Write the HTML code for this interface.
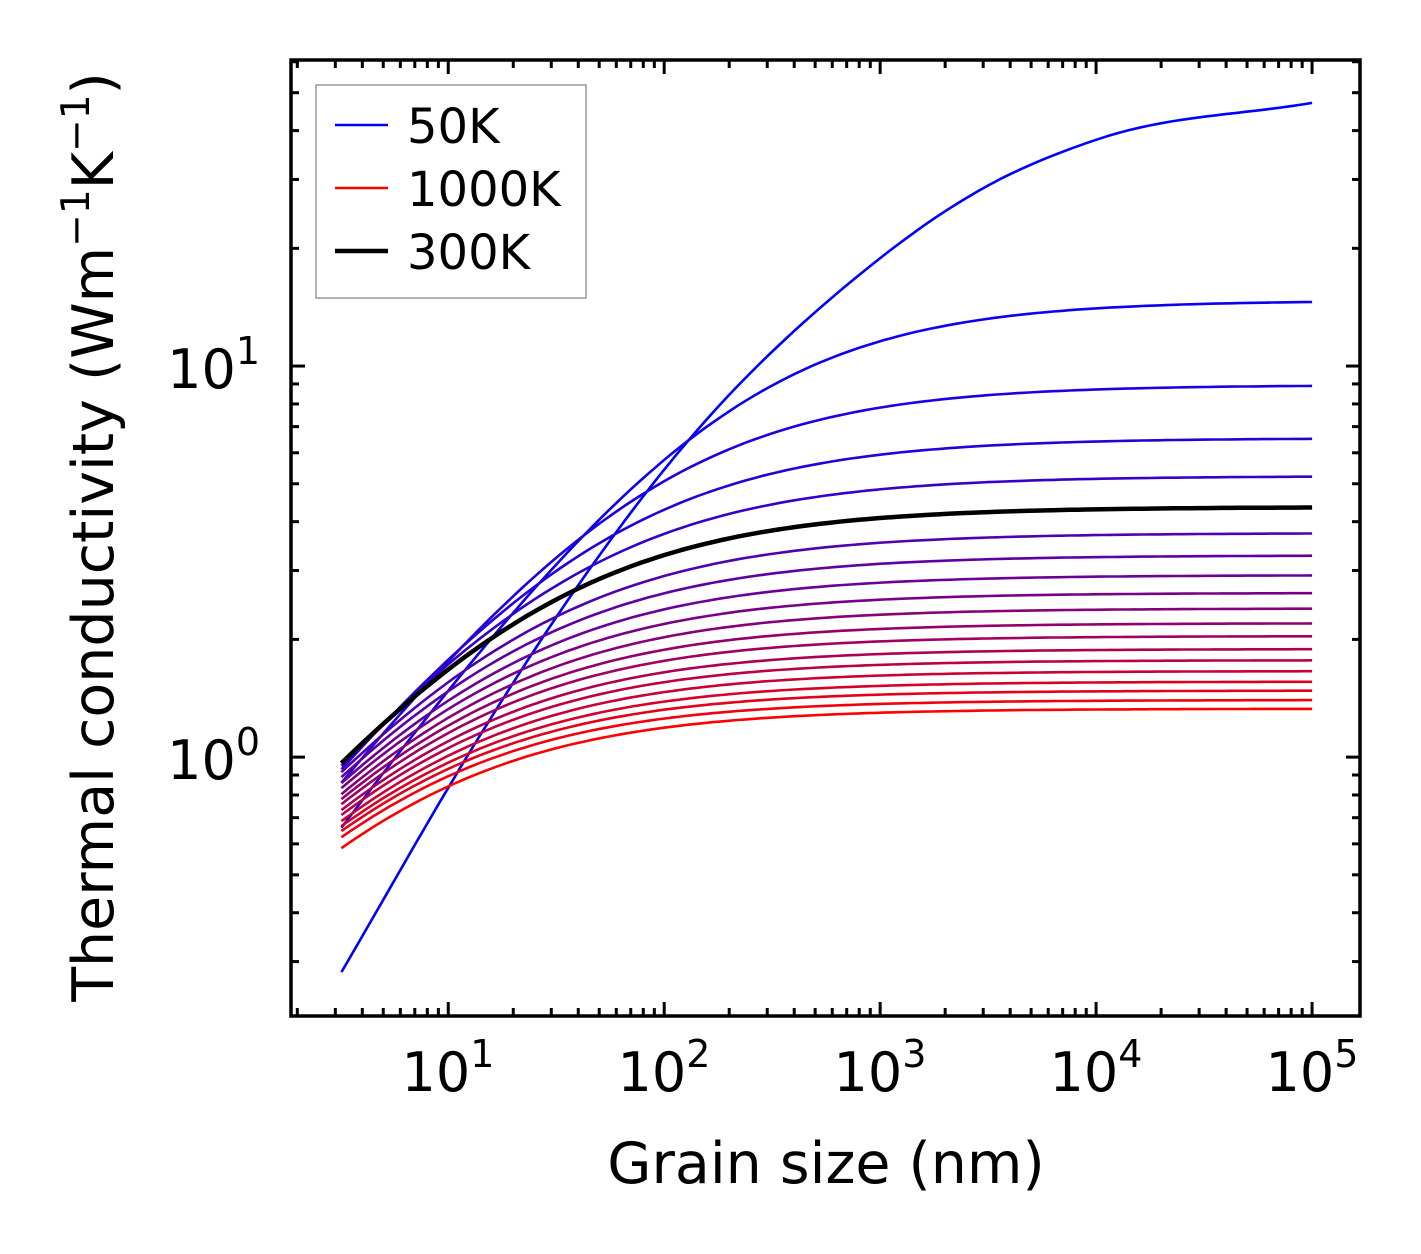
<!DOCTYPE html>
<html><head><meta charset="utf-8"><style>
html,body{margin:0;padding:0;background:#fff;}
svg{display:block;font-family:"DejaVu Sans","Liberation Sans",sans-serif;}
</style></head><body>
<svg id="chart" width="1421" height="1254" viewBox="0 0 1421 1254" xmlns="http://www.w3.org/2000/svg">
<rect width="1421" height="1254" fill="#fff"/>
<g id="curves"></g>
<g id="ticks"></g>
<rect x="291" y="60" width="1069" height="956" fill="none" stroke="#000" stroke-width="3.5"/>
<g font-size="54" text-anchor="middle">
<text x="448" y="1091">10<tspan font-size="38" dy="-24">1</tspan></text>
<text x="664" y="1091">10<tspan font-size="38" dy="-24">2</tspan></text>
<text x="880" y="1091">10<tspan font-size="38" dy="-24">3</tspan></text>
<text x="1096" y="1091">10<tspan font-size="38" dy="-24">4</tspan></text>
<text x="1312" y="1091">10<tspan font-size="38" dy="-24">5</tspan></text>
</g>
<g font-size="54" text-anchor="end">
<text x="260" y="388">10<tspan font-size="38" dy="-24">1</tspan></text>
<text x="260" y="779">10<tspan font-size="38" dy="-24">0</tspan></text>
</g>
<text x="826" y="1183" font-size="57" text-anchor="middle">Grain size (nm)</text>
<text transform="translate(113,537) rotate(-90)" font-size="57" text-anchor="middle">Thermal conductivity (Wm<tspan font-size="39" dy="-24">−1</tspan><tspan dy="24">K</tspan><tspan font-size="39" dy="-24">−1</tspan><tspan dy="24">)</tspan></text>
<g>
<rect x="316" y="85" width="270" height="213" fill="#fff" stroke="#999" stroke-width="1.5"/>
<g><line x1="335" y1="125" x2="388" y2="125" stroke="#0000ff" stroke-width="2.5"/><text x="407" y="143" font-size="48">50K</text></g>
<g><line x1="335" y1="188" x2="388" y2="188" stroke="#ff0000" stroke-width="2.5"/><text x="407" y="206" font-size="48">1000K</text></g>
<g><line x1="335" y1="251" x2="388" y2="251" stroke="#000" stroke-width="4.5"/><text x="407" y="269" font-size="48">300K</text></g>
</g>
</svg>
<script>
// Data
const temps = [50,100,150,200,250,300,350,400,450,500,550,600,650,700,750,800,850,900,950,1000];
// conductivity at the largest grain size (1e5 nm)
const kBulk = [47.1,14.7,8.94,6.54,5.23,4.36,3.74,3.28,2.92,2.63,2.40,2.20,2.04,1.89,1.77,1.66,1.56,1.48,1.40,1.33];
// conductivity at the smallest grain size (3.2 nm)
const kSmall = [0.282,0.66,0.86,0.93,0.95,0.965,0.915,0.889,0.858,0.833,0.804,0.781,0.758,0.732,0.711,0.686,0.666,0.647,0.624,0.585];
// fitted size-scaling exponent per temperature
const kExp = [0.8,0.76,0.73,0.71,0.70,0.69,0.69,0.69,0.69,0.69,0.69,0.69,0.69,0.69,0.69,0.69,0.69,0.69,0.69,0.69];
// 50K curve sampled points
const grain50 = [3.2,14.5,36.7,122,749,3000,10000,100000];
const k50 = [0.282,1.17,2.57,6.21,16.6,28.5,37.9,47.1];

const X0=291,X1=1360,Y0=60,Y1=1016;
const xMinLog=Math.log10(1.87), xMaxLog=5.222;
const yMinLog=-0.662, yMaxLog=1.7826;
const xs = v => X0+(Math.log10(v)-xMinLog)/(xMaxLog-xMinLog)*(X1-X0);
const ys = v => Y1-(Math.log10(v)-yMinLog)/(yMaxLog-yMinLog)*(Y1-Y0);
const NS="http://www.w3.org/2000/svg";
const gC=document.getElementById('curves'), gT=document.getElementById('ticks');

function pathFrom(pts){return pts.map((p,i)=>(i?'L':'M')+p[0].toFixed(1)+' '+p[1].toFixed(1)).join(' ');}
const Lmin=3.2, Lmax=1e5;
function curvePts(kinf,k0,e){
  // boundary-scattering fit: k = kinf / (1 + (lam/L)^e), pinned at both ends
  const lam=Lmin*Math.pow(kinf/k0-1,1/e);
  const pts=[];
  for(let i=0;i<=120;i++){
    const L=Math.pow(10,Math.log10(Lmin)+i/120*(Math.log10(Lmax)-Math.log10(Lmin)));
    pts.push([xs(L),ys(kinf/(1+Math.pow(lam/L,e)))]);
  }
  return pts;
}
function interp50(){
  const pts=[];
  const lx=grain50.map(Math.log10), ly=k50.map(Math.log10);
  const n=lx.length, m=[];
  for(let i=0;i<n;i++){
    if(i==0) m.push((ly[1]-ly[0])/(lx[1]-lx[0]));
    else if(i==n-1) m.push((ly[n-1]-ly[n-2])/(lx[n-1]-lx[n-2]));
    else{
      const a=(ly[i]-ly[i-1])/(lx[i]-lx[i-1]), b=(ly[i+1]-ly[i])/(lx[i+1]-lx[i]);
      m.push((a*(lx[i+1]-lx[i])+b*(lx[i]-lx[i-1]))/(lx[i+1]-lx[i-1]));
    }
  }
  for(let i=0;i<n-1;i++){
    const h=lx[i+1]-lx[i];
    for(let j=0;j<20;j++){
      const t=j/20,t2=t*t,t3=t2*t;
      const y=(2*t3-3*t2+1)*ly[i]+(t3-2*t2+t)*h*m[i]+(-2*t3+3*t2)*ly[i+1]+(t3-t2)*h*m[i+1];
      const x=lx[i]+t*h;
      pts.push([xs(Math.pow(10,x)),ys(Math.pow(10,y))]);
    }
  }
  pts.push([xs(grain50[n-1]),ys(k50[n-1])]);
  return pts;
}
let blackPath=null;
temps.forEach((T,i)=>{
  const f=i/(temps.length-1);
  const col=`rgb(${Math.round(255*f)},0,${Math.round(255*(1-f))})`;
  const pts = i===0 ? interp50() : curvePts(kBulk[i],kSmall[i],kExp[i]);
  const p=document.createElementNS(NS,'path');
  p.setAttribute('d',pathFrom(pts));
  p.setAttribute('fill','none');
  p.setAttribute('stroke-linejoin','round');
  
  
  if(T===300){p.setAttribute('stroke','#000');p.setAttribute('stroke-width','4.5');blackPath=p;}
  else{p.setAttribute('stroke',col);p.setAttribute('stroke-width','2.6');gC.appendChild(p);}
});
if(blackPath) gC.appendChild(blackPath);

function tick(x1,y1,x2,y2){
  const l=document.createElementNS(NS,'line');
  l.setAttribute('x1',x1);l.setAttribute('y1',y1);l.setAttribute('x2',x2);l.setAttribute('y2',y2);
  l.setAttribute('stroke','#000');l.setAttribute('stroke-width','3');
  
  
  gT.appendChild(l);
}
for(let d=0;d<=5;d++){
  for(let k=1;k<=9;k++){
    const v=k*Math.pow(10,d);
    const x=xs(v);
    if(x<X0+1||x>X1-1) continue;
    const len=(k===1)?14:8;
    tick(x,Y1,x,Y1-len);tick(x,Y0,x,Y0+len);
  }
}
for(let d=-1;d<=1;d++){
  for(let k=1;k<=9;k++){
    const v=k*Math.pow(10,d);
    const y=ys(v);
    if(y<Y0+1||y>Y1-1) continue;
    const len=(k===1)?14:8;
    tick(X0,y,X0+len,y);tick(X1,y,X1-len,y);
  }
}
</script>
</body></html>
